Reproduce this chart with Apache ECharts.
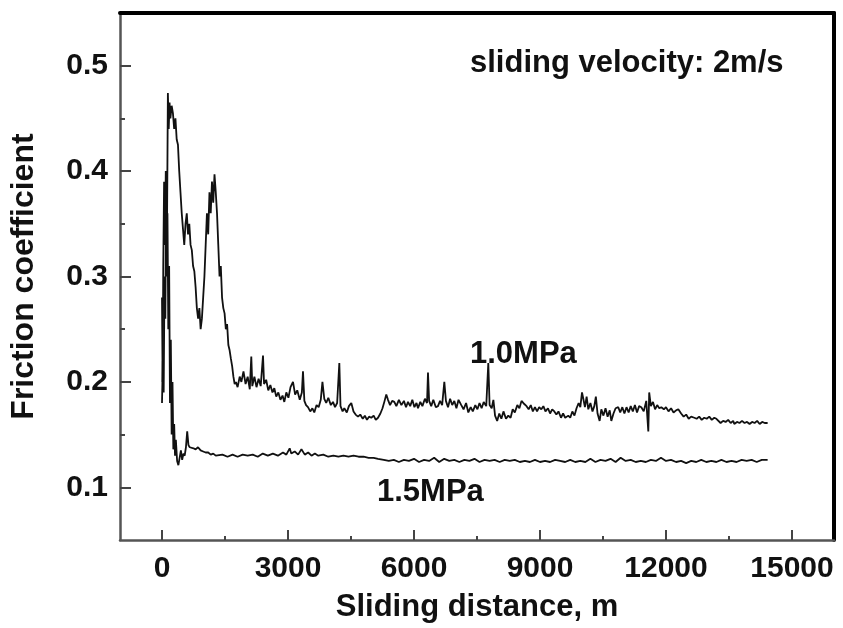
<!DOCTYPE html>
<html>
<head>
<meta charset="utf-8">
<script src="https://cdn.jsdelivr.net/npm/echarts@6/dist/echarts.min.js"></script>
<style>
  html, body { margin: 0; padding: 0; background: #fff; }
  #main { width: 843px; height: 628px; }
</style>
</head>
<body>
<div id="main"></div>
<script>
// tick labels
const xTicks = [0, 3000, 6000, 9000, 12000, 15000]
const xMinor = [1500, 4500, 7500, 10500, 13500]
const yTicks = [0.1, 0.2, 0.3, 0.4, 0.5]
const yMinor = [0.15, 0.25, 0.35, 0.45]

// [sliding distance m, friction coefficient]
const mpa10 = [
  [0,0.18],[20,0.22],[40,0.19],[60,0.30],[80,0.26],[100,0.40],[120,0.35],[140,0.474],[160,0.44],[180,0.465],
  [200,0.45],[230,0.462],[260,0.455],[290,0.44],[320,0.45],[350,0.43],[380,0.425],[410,0.40],[440,0.38],[470,0.36],
  [500,0.345],[530,0.33],[560,0.35],[590,0.36],[620,0.34],[650,0.35],[680,0.33],[710,0.325],[740,0.31],[770,0.305],
  [800,0.29],[830,0.27],[860,0.26],[890,0.27],[920,0.25],[950,0.26],[980,0.28],[1010,0.30],[1040,0.33],[1070,0.36],
  [1100,0.34],[1130,0.38],[1160,0.36],[1190,0.39],[1220,0.37],[1250,0.397],[1280,0.38],[1310,0.36],[1340,0.33],[1370,0.30],
  [1400,0.31],[1430,0.28],[1460,0.27],[1490,0.265],[1520,0.25],[1550,0.255],[1580,0.235],[1610,0.23],[1640,0.222],[1670,0.215],
  [1700,0.205],[1730,0.198],[1760,0.20],[1800,0.195],[1850,0.205],[1890,0.20],[1940,0.21],[1990,0.198],[2040,0.205],[2090,0.193],
  [2126,0.224],[2150,0.196],[2200,0.205],[2250,0.195],[2300,0.203],[2350,0.196],[2405,0.225],[2430,0.198],[2480,0.202],[2530,0.192],
  [2580,0.197],[2630,0.19],[2674,0.194],[2720,0.186],[2770,0.19],[2820,0.183],[2870,0.187],[2912,0.181],[2960,0.19],[3010,0.185],
  [3060,0.195],[3119,0.20],[3170,0.188],[3220,0.192],[3280,0.183],[3330,0.19],[3357,0.21],[3390,0.182],[3430,0.178],[3476,0.176],
  [3530,0.172],[3580,0.175],[3626,0.171],[3680,0.178],[3730,0.176],[3780,0.183],[3820,0.20],[3864,0.184],[3910,0.18],[3960,0.185],
  [4020,0.178],[4071,0.181],[4120,0.176],[4170,0.18],[4222,0.218],[4250,0.177],[4300,0.172],[4341,0.175],[4400,0.171],[4450,0.177],
  [4507,0.18],[4560,0.172],[4610,0.169],[4667,0.167],[4720,0.169],[4780,0.165],[4830,0.168],[4880,0.164],[4930,0.167],[4983,0.166],
  [5040,0.168],[5090,0.164],[5143,0.166],[5200,0.17],[5250,0.175],[5300,0.182],[5340,0.188],[5381,0.183],[5430,0.178],[5480,0.182],
  [5531,0.181],[5580,0.177],[5640,0.183],[5700,0.178],[5760,0.182],[5810,0.176],[5857,0.181],[5910,0.177],[5960,0.183],[6010,0.176],
  [6060,0.18],[6095,0.175],[6150,0.181],[6200,0.177],[6260,0.184],[6310,0.18],[6333,0.209],[6360,0.182],[6410,0.177],[6460,0.183],
  [6520,0.176],[6571,0.177],[6620,0.182],[6670,0.178],[6722,0.20],[6760,0.182],[6810,0.176],[6860,0.184],[6910,0.178],[6960,0.182],
  [7010,0.175],[7060,0.183],[7126,0.178],[7180,0.174],[7240,0.18],[7293,0.171],[7350,0.176],[7400,0.172],[7460,0.178],[7510,0.174],
  [7560,0.18],[7610,0.175],[7660,0.181],[7720,0.177],[7769,0.218],[7800,0.178],[7850,0.175],[7890,0.183],[7930,0.168],[7980,0.163],
  [8030,0.17],[8080,0.165],[8130,0.172],[8190,0.165],[8245,0.168],[8300,0.166],[8350,0.174],[8400,0.171],[8460,0.178],[8510,0.175],
  [8560,0.182],[8626,0.179],[8680,0.177],[8730,0.174],[8780,0.178],[8830,0.172],[8880,0.176],[8930,0.172],[8980,0.176],[9031,0.174],
  [9080,0.177],[9130,0.172],[9190,0.175],[9240,0.17],[9290,0.174],[9341,0.172],[9390,0.169],[9440,0.172],[9500,0.166],[9550,0.17],
  [9600,0.166],[9674,0.168],[9720,0.166],[9770,0.172],[9820,0.168],[9870,0.175],[9920,0.18],[9960,0.176],[10000,0.19],[10031,0.184],
  [10070,0.176],[10110,0.186],[10150,0.174],[10200,0.18],[10250,0.172],[10293,0.177],[10330,0.186],[10370,0.17],[10420,0.163],[10460,0.174],
  [10510,0.168],[10560,0.175],[10610,0.167],[10660,0.173],[10698,0.163],[10750,0.17],[10800,0.175],[10864,0.176],[10910,0.171],[10960,0.176],
  [11010,0.17],[11060,0.176],[11110,0.171],[11160,0.177],[11210,0.172],[11260,0.178],[11310,0.171],[11360,0.177],[11412,0.176],[11470,0.172],
  [11530,0.182],[11579,0.153],[11600,0.19],[11640,0.177],[11690,0.181],[11740,0.174],[11790,0.178],[11840,0.175],[11888,0.176],[11950,0.174],
  [12000,0.176],[12060,0.172],[12120,0.175],[12180,0.171],[12240,0.173],[12293,0.174],[12360,0.17],[12420,0.167],[12480,0.169],[12540,0.165],
  [12600,0.167],[12674,0.166],[12730,0.165],[12790,0.167],[12850,0.164],[12910,0.166],[12970,0.165],[13030,0.167],[13090,0.164],[13150,0.166],
  [13200,0.165],[13246,0.165],[13300,0.161],[13360,0.163],[13420,0.162],[13480,0.164],[13540,0.161],[13600,0.163],[13626,0.16],[13690,0.162],
  [13750,0.161],[13810,0.163],[13870,0.161],[13930,0.162],[13990,0.16],[14050,0.162],[14110,0.161],[14170,0.163],[14230,0.16],[14290,0.162],
  [14350,0.161],[14420,0.161]
]

const mpa15 = [
  [0,0.28],[15,0.20],[30,0.31],[50,0.39],[70,0.33],[90,0.40],[110,0.30],[130,0.36],[150,0.25],[170,0.31],
  [190,0.18],[210,0.24],[230,0.15],[250,0.20],[270,0.136],[290,0.16],[310,0.13],[330,0.145],[360,0.125],[390,0.121],
  [420,0.122],[450,0.135],[480,0.126],[510,0.132],[540,0.13],[570,0.138],[600,0.153],[630,0.14],[660,0.138],[700,0.139],
  [750,0.137],[800,0.136],[857,0.138],[920,0.135],[980,0.134],[1040,0.133],[1100,0.133],[1160,0.131],[1220,0.132],[1280,0.13],
  [1320,0.129],[1440,0.131],[1560,0.129],[1680,0.131],[1800,0.129],[1920,0.131],[2040,0.13],[2160,0.131],[2280,0.129],[2400,0.132],
  [2520,0.13],[2640,0.132],[2760,0.13],[2880,0.133],[2960,0.131],[3040,0.137],[3078,0.132],[3160,0.134],[3240,0.131],[3320,0.136],
  [3400,0.131],[3480,0.133],[3560,0.13],[3640,0.132],[3720,0.13],[3840,0.131],[3960,0.129],[4080,0.13],[4200,0.129],[4320,0.13],
  [4440,0.129],[4560,0.13],[4680,0.129],[4800,0.129],[4920,0.128],[5040,0.128],[5143,0.127],[5280,0.126],[5400,0.125],[5520,0.126],
  [5640,0.124],[5760,0.126],[5880,0.125],[6000,0.127],[6120,0.124],[6240,0.126],[6360,0.125],[6480,0.128],[6600,0.124],[6720,0.127],
  [6840,0.125],[6960,0.126],[7080,0.124],[7200,0.126],[7320,0.125],[7440,0.127],[7560,0.124],[7680,0.126],[7800,0.125],[7920,0.126],
  [8040,0.124],[8160,0.126],[8280,0.125],[8400,0.126],[8520,0.124],[8640,0.125],[8760,0.124],[8880,0.126],[9000,0.124],[9120,0.125],
  [9240,0.124],[9360,0.126],[9480,0.125],[9600,0.124],[9720,0.126],[9840,0.124],[9960,0.125],[10080,0.124],[10200,0.127],[10320,0.124],
  [10440,0.126],[10560,0.125],[10680,0.127],[10800,0.124],[10920,0.128],[11040,0.125],[11160,0.126],[11280,0.124],[11400,0.125],[11520,0.124],
  [11640,0.126],[11760,0.125],[11880,0.128],[12000,0.125],[12120,0.126],[12240,0.124],[12360,0.125],[12480,0.123],[12600,0.125],[12720,0.124],
  [12840,0.126],[12960,0.124],[13080,0.125],[13200,0.124],[13320,0.126],[13440,0.124],[13560,0.125],[13680,0.124],[13800,0.126],[13920,0.125],
  [14040,0.126],[14160,0.124],[14280,0.126],[14420,0.126]
]

const font = 'Liberation Sans, Arial, sans-serif'
const lineColor = '#111'

var myChart = echarts.init(document.getElementById('main'), null, { renderer: 'canvas' })

// every axis is drawn on the grid edge, never through zero
function frameAxis(extra) {
  return Object.assign({
    type: 'value',
    axisLine: { show: false, onZero: false },
    axisTick: { show: false },
    axisLabel: { show: false },
    splitLine: { show: false }
  }, extra)
}

myChart.setOption({
  animation: false,
  backgroundColor: '#fff',
  grid: { left: 120, right: 9, top: 13, bottom: 88, containLabel: false },
  xAxis: [
    frameAxis({
      min: -1000, max: 16000, position: 'bottom',
      name: 'Sliding distance, m', nameLocation: 'middle', nameGap: 52,
      nameTextStyle: { fontFamily: font, fontWeight: 'bold', fontSize: 31, color: '#111' },
      axisLine: { show: true, onZero: false, lineStyle: { color: '#555', width: 2.5 } },
      axisTick: { show: true, inside: true, length: 10, customValues: xTicks, lineStyle: { color: '#444', width: 2 } },
      axisLabel: {
        show: true, customValues: xTicks, margin: 14, formatter: v => String(v),
        fontFamily: font, fontWeight: 'bold', fontSize: 30, color: '#111'
      }
    }),
    // minor ticks
    frameAxis({
      min: -1000, max: 16000, position: 'bottom',
      axisTick: { show: true, inside: true, length: 4, customValues: xMinor, lineStyle: { color: '#444', width: 2 } }
    }),
    // thick top frame
    frameAxis({
      min: -1000, max: 16000, position: 'top',
      axisLine: { show: true, onZero: false, lineStyle: { color: '#000', width: 4 } }
    })
  ],
  yAxis: [
    frameAxis({
      min: 0.05, max: 0.55, position: 'left',
      name: 'Friction coefficient', nameLocation: 'middle', nameGap: 80,
      nameTextStyle: { fontFamily: font, fontWeight: 'bold', fontSize: 32, color: '#111' },
      axisLine: { show: true, onZero: false, lineStyle: { color: '#555', width: 2.5 } },
      axisTick: { show: true, inside: true, length: 11, customValues: yTicks, lineStyle: { color: '#444', width: 2 } },
      axisLabel: {
        show: true, customValues: yTicks, margin: 12, formatter: v => v.toFixed(1),
        fontFamily: font, fontWeight: 'bold', fontSize: 30, color: '#111'
      }
    }),
    frameAxis({
      min: 0.05, max: 0.55, position: 'left',
      axisTick: { show: true, inside: true, length: 5, customValues: yMinor, lineStyle: { color: '#444', width: 2 } }
    }),
    // thick right frame
    frameAxis({
      min: 0.05, max: 0.55, position: 'right',
      axisLine: { show: true, onZero: false, lineStyle: { color: '#000', width: 4 } }
    })
  ],
  series: [
    {
      name: '1.0MPa', type: 'line', data: mpa10, showSymbol: false,
      xAxisIndex: 0, yAxisIndex: 0,
      lineStyle: { color: lineColor, width: 1.8 }
    },
    {
      name: '1.5MPa', type: 'line', data: mpa15, showSymbol: false,
      xAxisIndex: 0, yAxisIndex: 0,
      lineStyle: { color: lineColor, width: 1.8 }
    }
  ],
  graphic: [
    { type: 'text', left: 470, top: 48, style: { text: 'sliding velocity: 2m/s', font: 'bold 31px ' + font, fill: '#111' } },
    { type: 'text', left: 470, top: 339, style: { text: '1.0MPa', font: 'bold 31px ' + font, fill: '#111' } },
    { type: 'text', left: 377, top: 477, style: { text: '1.5MPa', font: 'bold 31px ' + font, fill: '#111' } }
  ]
})
</script>
</body>
</html>
